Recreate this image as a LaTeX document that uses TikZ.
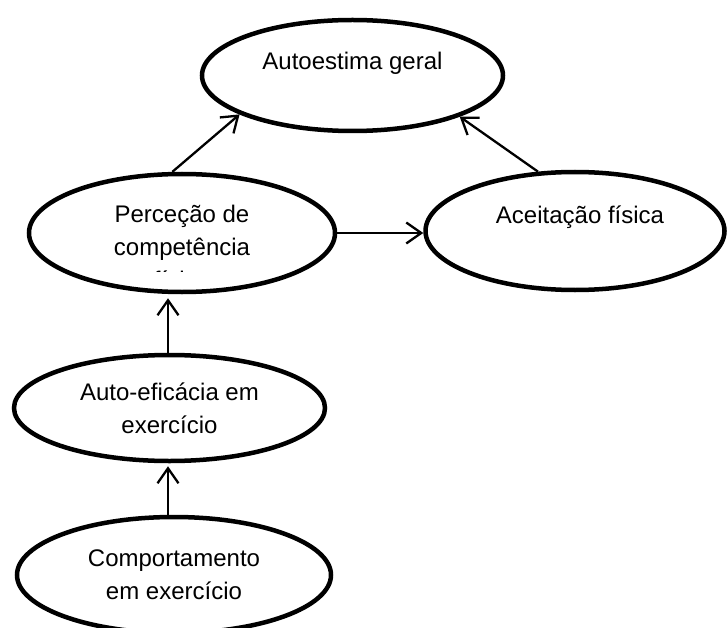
\documentclass[tikz,border=0pt]{standalone}
\usepackage{fontspec}
\setmainfont{Liberation Sans}
\usetikzlibrary{arrows.meta, shapes.geometric}

\begin{document}
\begin{tikzpicture}[x=1pt, y=-1pt,
  oval/.style={ellipse, draw, line width=4.5pt, inner sep=0pt},
  txt/.style={align=center, inner sep=0pt, font=\fontsize{24}{33}\selectfont},
  link/.style={line width=2.3pt, -{Straight Barb[length=15pt, width=21pt]}}]
  \useasboundingbox (0,0) rectangle (727,628);
  \clip (0,0) rectangle (727,628);
  % Ellipses
  \node[oval, minimum width=301pt, minimum height=111pt] (auto) at (352.5,75.5) {};
  \node[txt] (autotxt) at (352.5,63) {Autoestima geral};
  \node[oval, minimum width=306pt, minimum height=118pt] (perc) at (182,233) {};
  \node[oval, minimum width=299pt, minimum height=118pt] (aceit) at (575,231) {};
  \node[txt] (aceittxt) at (580,217) {Aceitação física};
  \node[oval, minimum width=311pt, minimum height=106pt, txt] (eff) at (169.5,408) {Auto-eficácia em\\exercício};
  \node[oval, minimum width=314pt, minimum height=116pt, txt] (comp) at (174,575) {Comportamento\\em exercício};
  % Text of the middle ellipse, cut at the bottom
  \begin{scope}
    \clip (0,150) rectangle (360,271);
    \node[txt] (perctxt) at (182,247) {Perceção de\\competência\\física};
  \end{scope}
  % Arrows
  \draw[link] (perc.99) -- (auto.199);
  \draw[link] (aceit.122) -- (auto.339);
  \draw[link] (perc.east) -- (perc.east -| aceit.west);
  \draw[link, shorten >=4pt] (eff.north -| 168,0) -- (perc.south -| 168,0);
  \draw[link, shorten >=3pt] (comp.north -| 168,0) -- (eff.south -| 168,0);
\end{tikzpicture}
\end{document}
